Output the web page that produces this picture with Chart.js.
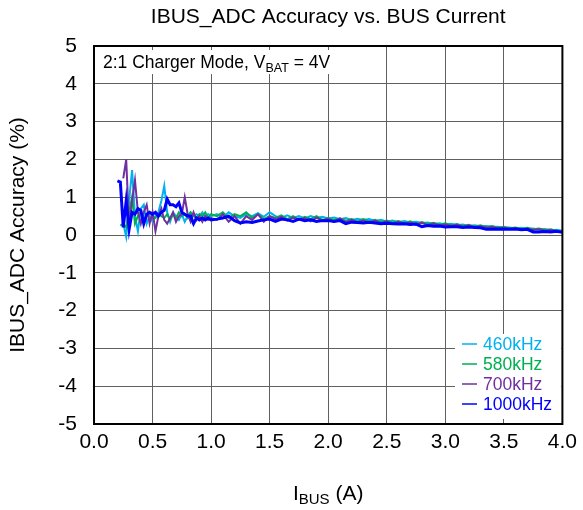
<!DOCTYPE html>
<html>
<head>
<meta charset="utf-8">
<script src="https://cdn.jsdelivr.net/npm/chart.js@4/dist/chart.umd.min.js"></script>
<style>
  html, body { margin: 0; padding: 0; background: #fff; }
  #wrap { width: 583px; height: 510px; }
</style>
</head>
<body>
<div id="wrap"><canvas id="c" width="583" height="510"></canvas></div>
<script>
// ---- Data ----
const current = [
  0.200,0.225,0.250,0.275,0.300,0.325,0.350,0.375,0.400,0.425,0.450,
  0.475,0.500,0.525,0.550,0.575,0.600,0.625,0.650,0.675,0.700,0.725,
  0.750,0.775,0.800,0.825,0.850,0.875,0.900,0.925,0.950,0.975,1.000,
  1.05,1.10,1.15,1.20,1.25,1.30,1.35,1.40,1.45,1.50,
  1.55,1.60,1.65,1.70,1.75,1.80,1.85,1.90,1.95,2.00,
  2.05,2.10,2.15,2.20,2.25,2.30,2.35,2.40,2.45,2.50,
  2.55,2.60,2.65,2.70,2.75,2.80,2.85,2.90,2.95,3.00,
  3.05,3.10,3.15,3.20,3.25,3.30,3.35,3.40,3.45,3.50,
  3.55,3.60,3.65,3.70,3.75,3.80,3.85,3.90,3.95,4.00
];
const acc460 = [
  null,null,0.30,-0.05,0.90,1.72,0.50,0.10,0.70,0.80,0.30,
  0.50,0.35,0.50,0.60,0.90,1.30,0.60,0.35,0.60,0.50,0.40,
  0.55,0.35,0.50,0.60,0.50,0.55,0.50,0.60,0.45,0.55,0.50,
  0.55,0.45,0.60,0.50,0.45,0.55,0.50,0.58,0.48,0.60,
  0.50,0.45,0.52,0.45,0.50,0.44,0.50,0.45,0.48,0.44,
  0.46,0.42,0.45,0.40,0.43,0.40,0.42,0.37,0.40,0.36,
  0.38,0.34,0.37,0.33,0.35,0.31,0.33,0.29,0.31,0.28,
  0.30,0.26,0.28,0.24,0.26,0.23,0.24,0.21,0.22,0.19,
  0.20,0.17,0.19,0.16,0.17,0.14,0.16,0.12,0.14,0.11
];
const acc580 = [
  null,0.25,0.30,0.20,0.60,1.00,0.30,0.50,0.60,0.40,0.50,
  0.60,0.50,0.45,0.55,0.50,0.45,0.55,0.40,0.55,0.45,0.60,
  0.50,0.55,0.45,0.60,0.50,0.45,0.55,0.50,0.60,0.45,0.55,
  0.50,0.60,0.45,0.55,0.50,0.60,0.45,0.55,0.42,0.50,
  0.45,0.52,0.42,0.50,0.40,0.48,0.42,0.50,0.40,0.45,
  0.40,0.44,0.38,0.42,0.36,0.42,0.36,0.40,0.34,0.38,
  0.33,0.37,0.31,0.36,0.30,0.34,0.29,0.32,0.27,0.31,
  0.26,0.29,0.24,0.27,0.22,0.26,0.21,0.24,0.19,0.22,
  0.18,0.20,0.16,0.19,0.15,0.17,0.13,0.15,0.11,0.10
];
const acc700 = [
  null,null,1.50,2.00,0.20,0.90,1.45,0.60,0.30,0.60,0.80,
  0.30,0.60,0.10,0.50,0.70,0.40,0.30,0.45,0.60,0.35,0.50,
  0.55,1.00,0.55,0.35,0.60,0.40,0.50,0.35,0.50,0.40,0.45,
  0.40,0.55,0.35,0.50,0.30,0.50,0.40,0.55,0.35,0.50,
  0.42,0.48,0.38,0.46,0.40,0.45,0.36,0.46,0.38,0.43,
  0.35,0.44,0.34,0.40,0.33,0.38,0.32,0.38,0.31,0.36,
  0.30,0.35,0.29,0.33,0.27,0.32,0.26,0.30,0.25,0.28,
  0.24,0.27,0.22,0.25,0.21,0.23,0.19,0.21,0.17,0.19,
  0.16,0.18,0.14,0.16,0.13,0.15,0.11,0.13,0.10,0.09
];
const acc1000 = [
  1.43,1.40,0.20,0.90,0.15,0.60,0.55,0.70,0.65,0.30,0.55,
  0.60,0.55,0.60,0.50,0.60,0.65,0.95,0.80,0.80,0.75,0.85,
  0.60,0.55,0.50,0.50,0.30,0.45,0.40,0.45,0.40,0.45,0.40,
  0.42,0.45,0.50,0.38,0.32,0.35,0.33,0.37,0.40,0.42,
  0.36,0.42,0.40,0.36,0.42,0.38,0.40,0.36,0.38,0.38,
  0.36,0.38,0.30,0.34,0.33,0.32,0.34,0.32,0.30,0.31,
  0.30,0.29,0.30,0.28,0.29,0.22,0.25,0.23,0.24,0.21,
  0.22,0.22,0.20,0.21,0.20,0.19,0.15,0.15,0.16,0.15,
  0.15,0.16,0.14,0.15,0.08,0.08,0.09,0.08,0.10,0.07
];
const seriesNames = ['460kHz','580kHz','700kHz','1000kHz'];
const xTicks = [0.0,0.5,1.0,1.5,2.0,2.5,3.0,3.5,4.0];
const yTicks = [-5,-4,-3,-2,-1,0,1,2,3,4,5];

// ---- Styles ----
const colors = ['#00B0F0','#00B050','#7030A0','#0000FF'];
const widths = [2,2,2,3];
const FONT = '"Liberation Sans", Arial, sans-serif';
const BIG = 21, SMALL = 17.5;
const PLOT = { left: 94, right: 567, top: 46, bottom: 424 };

const allSeries = [acc460, acc580, acc700, acc1000];
const datasets = allSeries.map((vals, k) => ({
  label: seriesNames[k],
  data: current.map((x, i) => ({ x: x, y: vals[i] })),
  borderColor: colors[k],
  backgroundColor: colors[k],
  borderWidth: widths[k],
  pointRadius: 0,
  tension: 0,
  fill: false,
  order: 3 - k
}));

const decor = {
  id: 'decor',
  beforeDatasetsDraw(chart) {
    const ctx = chart.ctx, a = chart.chartArea;
    ctx.save();
    ctx.fillStyle = '#fff';
    ctx.fillRect(a.left + 2, a.top + 4, 246, 24);
    ctx.restore();
  },
  afterDatasetsDraw(chart) {
    const ctx = chart.ctx, a = chart.chartArea;
    ctx.save();
    // legend box
    ctx.fillStyle = '#fff';
    ctx.fillRect(455, 334, a.right - 456, 85);
    const rowsY = [344, 364, 384, 404];
    ctx.font = SMALL + 'px ' + FONT;
    ctx.textBaseline = 'middle';
    ctx.textAlign = 'left';
    for (let k = 0; k < 4; k++) {
      ctx.strokeStyle = colors[k];
      ctx.lineWidth = 1.5;
      ctx.beginPath();
      ctx.moveTo(462, rowsY[k]);
      ctx.lineTo(477, rowsY[k]);
      ctx.stroke();
      ctx.fillStyle = colors[k];
      ctx.fillText(seriesNames[k], 483, rowsY[k] + 1);
    }
    // frame
    ctx.strokeStyle = '#000';
    ctx.lineWidth = 2;
    ctx.strokeRect(a.left, a.top, a.right - a.left, a.bottom - a.top);
    ctx.restore();
  },
  afterDraw(chart) {
    const ctx = chart.ctx, a = chart.chartArea;
    ctx.save();
    ctx.fillStyle = '#000';
    ctx.textBaseline = 'alphabetic';
    // annotation text
    let x = a.left + 9, y = a.top + 22;
    ctx.font = SMALL + 'px ' + FONT;
    ctx.textAlign = 'left';
    const t1 = '2:1 Charger Mode, V';
    ctx.fillText(t1, x, y); x += ctx.measureText(t1).width;
    ctx.font = '12.5px ' + FONT;
    ctx.fillText('BAT', x, y + 4); x += ctx.measureText('BAT').width;
    ctx.font = SMALL + 'px ' + FONT;
    ctx.fillText(' = 4V', x, y);

    const cx = (a.left + a.right) / 2;
    // title
    ctx.font = BIG + 'px ' + FONT;
    ctx.textAlign = 'center';
    ctx.textBaseline = 'middle';
    ctx.fillText('IBUS_ADC Accuracy vs. BUS Current', cx, 17);

    // x axis title with subscript
    ctx.textBaseline = 'alphabetic';
    ctx.textAlign = 'left';
    ctx.font = BIG + 'px ' + FONT;
    const wI = ctx.measureText('I').width;
    const wA = ctx.measureText(' (A)').width;
    ctx.font = '15px ' + FONT;
    const wS = ctx.measureText('BUS').width;
    let sx = cx - (wI + wS + wA) / 2;
    const by = 500;
    ctx.font = BIG + 'px ' + FONT;
    ctx.fillText('I', sx, by); sx += wI;
    ctx.font = '15px ' + FONT;
    ctx.fillText('BUS', sx, by + 4); sx += wS;
    ctx.font = BIG + 'px ' + FONT;
    ctx.fillText(' (A)', sx, by);

    // y axis title
    ctx.translate(18, (a.top + a.bottom) / 2);
    ctx.rotate(-Math.PI / 2);
    ctx.textAlign = 'center';
    ctx.textBaseline = 'middle';
    ctx.fillText('IBUS_ADC Accuracy (%)', 0, 0);
    ctx.restore();
  }
};

new Chart(document.getElementById('c'), {
  type: 'line',
  data: { datasets: datasets },
  options: {
    responsive: false,
    animation: false,
    devicePixelRatio: 1,
    layout: { padding: { left: 0, top: PLOT.top, right: 583 - PLOT.right, bottom: 0 } },
    plugins: { legend: { display: false }, title: { display: false }, tooltip: { enabled: false } },
    scales: {
      x: {
        type: 'linear',
        min: 0, max: 4,
        afterFit(s) { s.height = 510 - PLOT.bottom; },
        afterBuildTicks(s) { s.ticks = xTicks.map(v => ({ value: v })); },
        ticks: {
          color: '#000',
          font: { family: FONT, size: BIG },
          padding: 6,
          maxRotation: 0,
          autoSkip: false,
          callback: v => Number(v).toFixed(1)
        },
        grid: { color: '#606060', lineWidth: 1, drawTicks: false },
        border: { display: false }
      },
      y: {
        type: 'linear',
        min: -5, max: 5,
        afterFit(s) { s.width = PLOT.left; },
        afterBuildTicks(s) { s.ticks = yTicks.map(v => ({ value: v })); },
        ticks: {
          color: '#000',
          font: { family: FONT, size: BIG },
          padding: 17,
          autoSkip: false,
          callback: v => String(v)
        },
        grid: { color: '#606060', lineWidth: 1, drawTicks: false },
        border: { display: false }
      }
    }
  },
  plugins: [decor]
});
</script>
</body>
</html>
